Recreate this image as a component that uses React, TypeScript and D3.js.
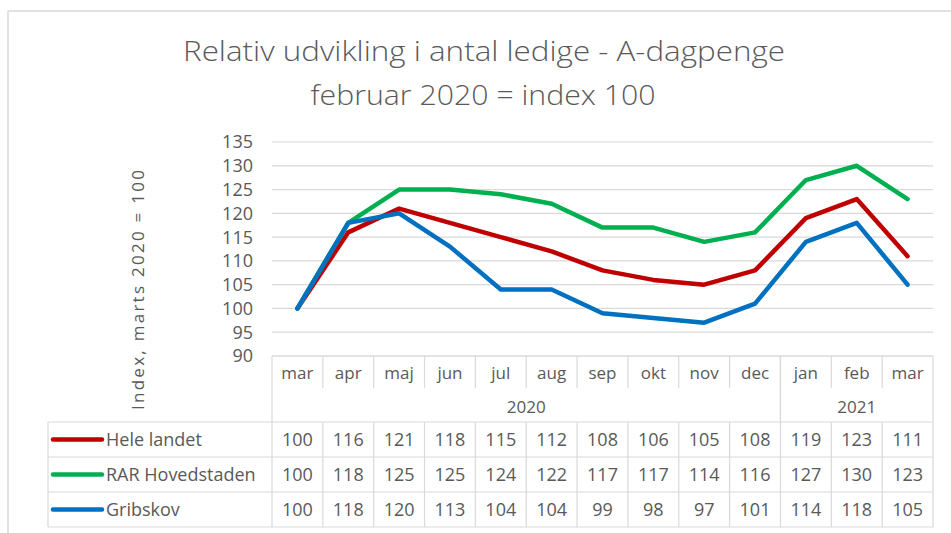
import React from "react";
import * as d3 from "d3";

const months = ["mar", "apr", "maj", "jun", "jul", "aug", "sep", "okt", "nov", "dec", "jan", "feb", "mar"];
const years = [
  { label: "2020", from: 0, to: 9 },
  { label: "2021", from: 10, to: 12 },
];
const heleLandet = [100, 116, 121, 118, 115, 112, 108, 106, 105, 108, 119, 123, 111];
const rarHovedstaden = [100, 118, 125, 125, 124, 122, 117, 117, 114, 116, 127, 130, 123];
const gribskov = [100, 118, 120, 113, 104, 104, 99, 98, 97, 101, 114, 118, 105];
const yTicks = [90, 95, 100, 105, 110, 115, 120, 125, 130, 135];

const series = [
  { name: "Hele landet", values: heleLandet, color: "#C00000" },
  { name: "RAR Hovedstaden", values: rarHovedstaden, color: "#00B050" },
  { name: "Gribskov", values: gribskov, color: "#0070C0" },
];

const W = 951;
const H = 533;
const plotL = 272;
const plotR = 933;
const grid = "#d9d9d9";
const textColor = "#595959";
const font = "'Open Sans', 'DejaVu Sans', sans-serif";

export default function App() {
  const x = d3.scaleBand<number>().domain(months.map((_, i) => i)).range([plotL, plotR]);
  const y = d3.scaleLinear().domain([90, 135]).range([356, 142]);
  const cx = (i: number) => (x(i) as number) + x.bandwidth() / 2;
  const line = d3
    .line<number>()
    .x((_, i) => cx(i))
    .y((v) => y(v));

  const tableTop = y(90);
  const monthRowBottom = 388;
  const yearRowBottom = 422;
  const rowH = 35;
  const legendL = 48;

  return (
    <svg
      width={W}
      height={H}
      style={{ position: "absolute", left: 0, top: 0, background: "#fff" }}
      fontFamily={font}
    >
      <rect x={0} y={0} width={W} height={H} fill="#fff" />
      {/* outer chart border */}
      <line x1={8} y1={11} x2={W} y2={11} stroke={grid} strokeWidth={1.5} />
      <line x1={8} y1={11} x2={8} y2={H} stroke={grid} strokeWidth={1.5} />

      {/* title */}
      <text x={484} y={61} textAnchor="middle" fontSize={28} fill={textColor} textLength={602} lengthAdjust="spacingAndGlyphs" fontWeight={300}>
        Relativ udvikling i antal ledige - A-dagpenge
      </text>
      <text x={483} y={105} textAnchor="middle" fontSize={28} fill={textColor} textLength={345} lengthAdjust="spacingAndGlyphs" fontWeight={300}>
        februar 2020 = index 100
      </text>

      {/* gridlines */}
      {yTicks.map((t) => (
        <line key={t} x1={plotL} x2={plotR} y1={y(t)} y2={y(t)} stroke={grid} strokeWidth={1.2} />
      ))}
      {/* y tick labels */}
      {yTicks.map((t) => (
        <text key={"l" + t} x={253} y={y(t)} dy="0.36em" textAnchor="end" fontSize={18} fill={textColor}>
          {t}
        </text>
      ))}
      {/* y axis title */}
      <text
        transform={`translate(144,290) rotate(-90)`}
        textAnchor="middle"
        fontSize={17}
        fill={textColor}
        textLength={240}
        lengthAdjust="spacing"
      >
        Index, marts 2020 = 100
      </text>

      {/* lines */}
      {series.map((s) => (
        <path
          key={s.name}
          d={line(s.values) || ""}
          fill="none"
          stroke={s.color}
          strokeWidth={4.5}
          strokeLinejoin="round"
          strokeLinecap="round"
        />
      ))}

      {/* data table header */}
      <line x1={plotL} x2={plotR} y1={tableTop} y2={tableTop} stroke={grid} strokeWidth={1.2} />
      {months.map((m, i) => (
        <g key={"m" + i}>
          {i > 0 && (
            <line x1={x(i)} x2={x(i)} y1={tableTop} y2={monthRowBottom} stroke={grid} strokeWidth={1.2} />
          )}
          <text x={cx(i)} y={373} dy="0.36em" textAnchor="middle" fontSize={17} fill={textColor}>
            {m}
          </text>
        </g>
      ))}
      {years.map((yr) => {
        const x0 = x(yr.from) as number;
        const x1 = (x(yr.to) as number) + x.bandwidth();
        return (
          <g key={yr.label}>
            <line x1={x0} x2={x0} y1={tableTop} y2={yearRowBottom} stroke={grid} strokeWidth={1.2} />
            <line x1={x1} x2={x1} y1={tableTop} y2={yearRowBottom} stroke={grid} strokeWidth={1.2} />
            <text x={(x0 + x1) / 2} y={407} dy="0.36em" textAnchor="middle" fontSize={17} fill={textColor}>
              {yr.label}
            </text>
          </g>
        );
      })}

      {/* data rows */}
      {series.map((s, r) => {
        const top = yearRowBottom + r * rowH;
        const mid = top + rowH / 2;
        return (
          <g key={"row" + s.name}>
            <line x1={legendL} x2={plotR} y1={top} y2={top} stroke={grid} strokeWidth={1.2} />
            <line x1={legendL} x2={legendL} y1={top} y2={top + rowH} stroke={grid} strokeWidth={1.2} />
            <line x1={53} x2={102} y1={mid} y2={mid} stroke={s.color} strokeWidth={4.5} strokeLinecap="round" />
            <text x={106} y={mid} dy="0.36em" fontSize={18} fill={textColor}>
              {s.name}
            </text>
            {s.values.map((v, i) => (
              <g key={i}>
                <line x1={x(i)} x2={x(i)} y1={top} y2={top + rowH} stroke={grid} strokeWidth={1.2} />
                <text x={cx(i)} y={mid} dy="0.36em" textAnchor="middle" fontSize={18} fill={textColor}>
                  {v}
                </text>
              </g>
            ))}
            <line x1={plotR} x2={plotR} y1={top} y2={top + rowH} stroke={grid} strokeWidth={1.2} />
          </g>
        );
      })}
      <line x1={legendL} x2={plotR} y1={yearRowBottom + 3 * rowH} y2={yearRowBottom + 3 * rowH} stroke={grid} strokeWidth={1.2} />
    </svg>
  );
}
